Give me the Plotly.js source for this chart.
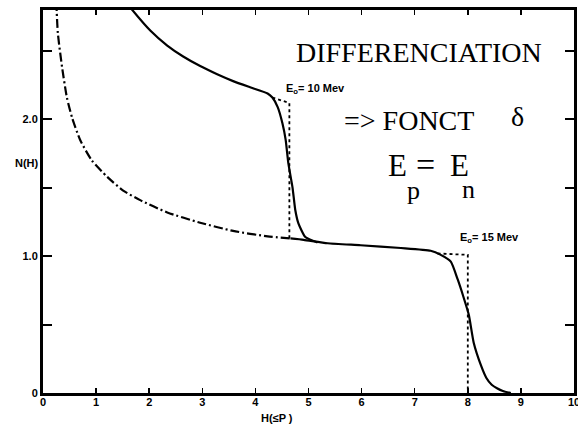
<!DOCTYPE html>
<html><head><meta charset="utf-8">
<script src="https://cdn.plot.ly/plotly-3.0.1.min.js"></script>
<style>html,body{margin:0;padding:0;background:#fff}#chart{width:578px;height:428px}</style>
</head><body><div id="chart"></div>
<script>
// E0 = 10 MeV curve (upper plateau)
const upperX = [1.60, 1.64, 2.02, 2.34, 2.64, 2.96, 3.28, 3.58, 3.90, 4.23, 4.32, 4.42, 4.51, 4.57, 4.62, 4.70, 4.75, 4.81, 4.94, 5.17];
const upperY = [2.84, 2.82, 2.65, 2.54, 2.46, 2.39, 2.33, 2.28, 2.235, 2.19, 2.16, 2.09, 1.97, 1.85, 1.68, 1.50, 1.34, 1.24, 1.14, 1.10];
// E0 = 15 MeV curve, dash-dot part (low H)
const lowerDashX = [0.25, 0.28, 0.36, 0.45, 0.55, 0.70, 0.92, 1.21, 1.51, 1.83, 2.34, 2.96, 3.58, 4.23, 4.66];
const lowerDashY = [2.86, 2.63, 2.38, 2.16, 2.01, 1.85, 1.70, 1.58, 1.48, 1.41, 1.32, 1.245, 1.185, 1.145, 1.13];
// E0 = 15 MeV curve, solid part
const lowerSolidX = [4.66, 4.91, 5.36, 5.98, 6.74, 7.30, 7.49, 7.68, 7.81, 7.92, 8.02, 8.11, 8.25, 8.35, 8.45, 8.55, 8.66, 8.81];
const lowerSolidY = [1.13, 1.12, 1.095, 1.08, 1.06, 1.04, 1.01, 0.96, 0.83, 0.70, 0.57, 0.37, 0.20, 0.11, 0.06, 0.035, 0.015, 0.0];
// ideal steps (dotted)
const step10X = [4.32, 4.64, 4.64];
const step10Y = [2.16, 2.12, 1.13];
const step15X = [7.43, 8.0, 8.0];
const step15Y = [1.02, 1.01, 0.0];
// ticks
const xTickVals = [0, 1, 2, 3, 4, 5, 6, 7, 8, 9, 10];
const xTickText = ['0', '1', '2', '3', '4', '5', '6', '7', '8', '9', '10'];
const yTickVals = [0, 0.5, 1.0, 1.5, 2.0, 2.5];
const yTickText = ['0', '', '1.0', '', '2.0', ''];

const blk = '#000';
const traces = [
  {x: upperX, y: upperY, mode: 'lines', line: {color: blk, width: 2.2, shape: 'spline', smoothing: 0.5}, hoverinfo: 'skip'},
  {x: lowerDashX, y: lowerDashY, mode: 'lines', line: {color: blk, width: 2.2, dash: '9px,3px,2px,3px', shape: 'spline', smoothing: 0.6}, hoverinfo: 'skip'},
  {x: lowerSolidX, y: lowerSolidY, mode: 'lines', line: {color: blk, width: 2.2, shape: 'spline', smoothing: 0.5}, hoverinfo: 'skip'},
  {x: step10X, y: step10Y, mode: 'lines', line: {color: blk, width: 1.8, dash: 'dot'}, hoverinfo: 'skip'},
  {x: step15X, y: step15Y, mode: 'lines', line: {color: blk, width: 1.8, dash: 'dot'}, hoverinfo: 'skip'}
];

const serif = 'Liberation Serif, Times New Roman, serif';
const sans = 'Liberation Sans, Arial, sans-serif';
const ann = (text, x, y, size, fam, xa) => ({text: text, x: x, y: y, xref: 'x', yref: 'y', showarrow: false, xanchor: xa || 'center', yanchor: 'middle', font: {family: fam, size: size, color: blk}});

const layout = {
  width: 578, height: 428,
  margin: {l: 43, r: 4, t: 10, b: 35},
  paper_bgcolor: '#fff', plot_bgcolor: '#fff',
  showlegend: false,
  font: {family: sans, color: blk},
  xaxis: {
    range: [0, 10], showgrid: false, zeroline: false,
    showline: true, linecolor: blk, linewidth: 3, mirror: 'ticks',
    ticks: 'inside', ticklen: 5, tickwidth: 1.5, tickcolor: blk,
    tickvals: xTickVals, ticktext: xTickText, ticklabeloverflow: 'allow', ticklabelstandoff: -3,
    tickfont: {family: sans, size: 11, color: blk, weight: 'bold'}
  },
  yaxis: {
    range: [0, 2.8], showgrid: false, zeroline: false,
    showline: true, linecolor: blk, linewidth: 3, mirror: 'ticks',
    ticks: 'inside', ticklen: 9, tickwidth: 2, tickcolor: blk,
    tickvals: yTickVals, ticktext: yTickText,
    tickfont: {family: sans, size: 11, color: blk, weight: 'bold'}
  },
  annotations: [
    ann('DIFFERENCIATION', 7.08, 2.49, 28, serif),
    ann('=&gt; FONCT', 5.64, 1.99, 28, serif, 'left'),
    ann('δ', 8.94, 2.02, 28, serif),
    ann('E', 6.45, 1.66, 31, serif, 'left'),
    ann('=', 7.21, 1.67, 34, serif),
    ann('E', 7.62, 1.66, 31, serif, 'left'),
    ann('p', 6.98, 1.48, 26, serif),
    ann('n', 8.02, 1.49, 26, serif),
    ann('<b>E<sub>o</sub>= 10 Mev</b>', 4.53, 2.225, 11, sans, 'left'),
    ann('<b>E<sub>o</sub>= 15 Mev</b>', 7.81, 1.13, 11, sans, 'left'),
    {text: '<b>N(H)</b>', x: -0.003, y: 1.68, xref: 'paper', yref: 'y', showarrow: false, xanchor: 'right', yanchor: 'middle', font: {family: sans, size: 11, color: blk}},
    {text: '<b>H(≤P )</b>', x: 4.4, y: -0.065, xref: 'x', yref: 'paper', showarrow: false, xanchor: 'center', yanchor: 'middle', font: {family: sans, size: 11, color: blk}}
  ]
};

Plotly.newPlot('chart', traces, layout, {staticPlot: true, displayModeBar: false});
</script>
</body></html>
